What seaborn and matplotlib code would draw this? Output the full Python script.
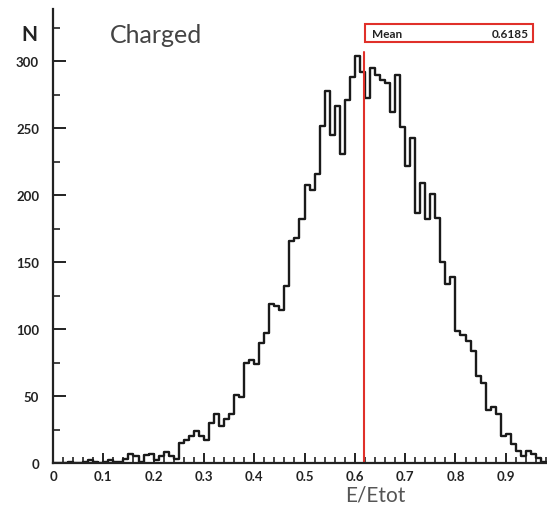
import numpy as np
import pandas as pd
import matplotlib
matplotlib.use("Agg")
import matplotlib.pyplot as plt
import seaborn as sns
from matplotlib.ticker import MultipleLocator, FixedLocator, FixedFormatter
from matplotlib.patches import Rectangle

# Histogram binning of E/Etot (width 0.01)
bin_width = 0.01
bin_range = (0.0, 0.98)

# Entries per bin
counts = [
    0, 0, 0, 1, 0, 0, 1, 2, 1, 0,          # 0.00 - 0.09
    1, 2, 1, 1, 3, 7, 5, 1, 6, 7,          # 0.10 - 0.19
    2, 5, 8, 5, 3, 15, 17, 20, 24, 20,     # 0.20 - 0.29
    17, 30, 37, 28, 33, 37, 51, 49, 75, 77,  # 0.30 - 0.39
    74, 90, 97, 119, 117, 114, 132, 166, 168, 182,  # 0.40 - 0.49
    208, 204, 216, 252, 278, 245, 267, 231, 271, 288,  # 0.50 - 0.59
    304, 292, 273, 295, 290, 286, 284, 262, 290, 251,  # 0.60 - 0.69
    222, 243, 187, 209, 182, 201, 183, 150, 134, 139,  # 0.70 - 0.79
    99, 96, 91, 84, 65, 60, 40, 42, 37, 20,  # 0.80 - 0.89
    22, 14, 9, 5, 9, 7, 4, 1,               # 0.90 - 0.97
]

mean_value = 0.6185
title_text = "Charged"
x_label = "E/Etot"
y_label = "N"
y_ticks = [0, 50, 100, 150, 200, 250, 300]
y_tick_labels = ["0", "50", "100", "150", "200", "250", "300"]
x_ticks = [0, 0.1, 0.2, 0.3, 0.4, 0.5, 0.6, 0.7, 0.8, 0.9]
x_tick_labels = ["0", "0.1", "0.2", "0.3", "0.4", "0.5", "0.6", "0.7", "0.8", "0.9"]

sns.set_theme(style="white")
plt.rcParams["font.family"] = ["Lato", "DejaVu Sans"]

centers = bin_range[0] + bin_width * (np.arange(len(counts)) + 0.5)
df = pd.DataFrame({"x": centers, "n": counts})

fig = plt.figure(figsize=(5.47, 5.10), dpi=100)
ax = fig.add_axes([0.0969, 0.090, 0.9031, 0.890])

sns.histplot(data=df, x="x", weights="n", binwidth=bin_width, binrange=bin_range,
             element="step", fill=False, color="#1a1a1a", linewidth=1.7, ax=ax)

# Mean marker
ax.plot([mean_value, mean_value], [0, 307], color="#e0302a", linewidth=1.5)

ax.set_xlim(0, 0.982)
ax.set_ylim(0, 339)

for side in ("top", "right"):
    ax.spines[side].set_visible(False)
for side in ("left", "bottom"):
    ax.spines[side].set_color("#222222")
    ax.spines[side].set_linewidth(1.6)

ax.xaxis.set_major_locator(FixedLocator(x_ticks))
ax.xaxis.set_major_formatter(FixedFormatter(x_tick_labels))
ax.xaxis.set_minor_locator(MultipleLocator(0.02))
ax.yaxis.set_major_locator(FixedLocator(y_ticks))
ax.yaxis.set_major_formatter(FixedFormatter(y_tick_labels))
ax.yaxis.set_minor_locator(MultipleLocator(25))

ax.tick_params(axis="x", which="major", direction="in", length=7, width=1.4,
               colors="#222222", labelsize=9.5, pad=5, bottom=True)
ax.tick_params(axis="x", which="minor", direction="in", length=4, width=1.2,
               colors="#222222", bottom=True)
ax.tick_params(axis="y", which="major", direction="in", length=9, width=1.4,
               colors="#222222", labelsize=9.5, pad=10, left=True)
ax.tick_params(axis="y", which="minor", direction="in", length=5, width=1.2,
               colors="#222222", left=True)
for lbl in ax.get_xticklabels() + ax.get_yticklabels():
    lbl.set_fontweight("bold")

ax.set_xlabel("")
ax.set_ylabel("")
ax.text(0.64, -0.048, x_label, transform=ax.get_xaxis_transform(),
        ha="center", va="top", fontsize=15, color="#555555")
ax.text(-0.048, 0.945, y_label, transform=ax.transAxes,
        ha="center", va="center", fontsize=15, fontweight="bold", color="#222222")
ax.text(0.208, 0.945, title_text, transform=ax.transAxes,
        ha="center", va="center", fontsize=18, color="#444444")

# Statistics box
box = Rectangle((0.632, 0.927), 0.340, 0.040, transform=ax.transAxes,
                fill=False, edgecolor="#e0302a", linewidth=1.5, clip_on=False)
ax.add_patch(box)
ax.text(0.645, 0.947, "Mean", transform=ax.transAxes, ha="left", va="center",
        fontsize=8.5, fontweight="bold", color="#222222")
ax.text(0.963, 0.947, f"{mean_value:.4f}", transform=ax.transAxes, ha="right",
        va="center", fontsize=8.5, fontweight="bold", color="#222222")

fig.savefig("out.png", dpi=100)
